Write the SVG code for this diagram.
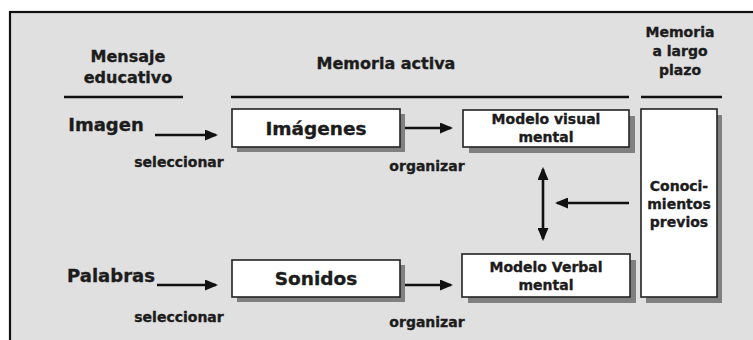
<svg xmlns="http://www.w3.org/2000/svg" width="753" height="340" viewBox="0 0 753 340">
<style>
  text { font-family: "DejaVu Sans", "Verdana", sans-serif; font-weight: bold; fill: #1c1c1c; stroke: #1c1c1c; stroke-width: 0.35; text-anchor: middle; }
  .hdr { font-size: 16px; }
  .hdr2 { font-size: 14px; }
  .big { font-size: 18px; }
  .box-t { font-size: 18.5px; }
  .mid { font-size: 14px; }
  .lbl { font-size: 14px; }
  .box { fill: #ffffff; stroke: #222222; stroke-width: 1.6; }
  .shadow { fill: #808080; }
  .rule { stroke: #111111; stroke-width: 2.5; }
  .arr { stroke: #111111; stroke-width: 2.6; fill: none; }
</style>
<defs>
  <marker id="ah" viewBox="0 0 13 11" refX="11" refY="5.5" markerWidth="13" markerHeight="11" markerUnits="userSpaceOnUse" orient="auto-start-reverse">
    <path d="M0,0 L13,5.5 L0,11 z" fill="#111111"/>
  </marker>
</defs>

<rect x="0" y="0" width="753" height="340" fill="#ffffff"/>
<rect x="10" y="12" width="760" height="350" fill="#e0e0e0" stroke="#111111" stroke-width="2.2"/>

<g id="header-mensaje">
  <text class="hdr" x="128" y="62">Mensaje</text>
  <text class="hdr" x="128" y="83">educativo</text>
  <line class="rule" x1="64" y1="97" x2="183" y2="97"/>
</g>
<g id="header-memoria-activa">
  <text class="hdr" x="386" y="69">Memoria activa</text>
  <line class="rule" x1="231" y1="97" x2="629" y2="97"/>
</g>
<g id="header-memoria-largo">
  <text class="hdr2" x="680" y="37">Memoria</text>
  <text class="hdr2" x="680" y="56">a largo</text>
  <text class="hdr2" x="680" y="75">plazo</text>
  <line class="rule" x1="641" y1="97" x2="722" y2="97"/>
</g>

<g id="imagen">
  <text class="big" x="106" y="131">Imagen</text>
</g>
<g id="palabras">
  <text class="big" x="111" y="282">Palabras</text>
</g>

<g id="imagenes">
  <rect class="shadow" x="237" y="114" width="168" height="38"/>
  <rect class="box" x="232" y="109" width="168" height="38"/>
  <text class="box-t" x="316" y="135">Imágenes</text>
</g>
<g id="sonidos">
  <rect class="shadow" x="237" y="265" width="168" height="37"/>
  <rect class="box" x="232" y="260" width="168" height="37"/>
  <text class="box-t" x="316" y="285">Sonidos</text>
</g>
<g id="modelo-visual">
  <rect class="shadow" x="469" y="116" width="166" height="37"/>
  <rect class="box" x="463" y="110" width="166" height="37"/>
  <text class="mid" x="546" y="124">Modelo visual</text>
  <text class="mid" x="546" y="142">mental</text>
</g>
<g id="modelo-verbal">
  <rect class="shadow" x="468" y="260" width="168" height="43"/>
  <rect class="box" x="462" y="254" width="168" height="43"/>
  <text class="mid" x="546" y="272">Modelo Verbal</text>
  <text class="mid" x="546" y="290">mental</text>
</g>
<g id="conocimientos">
  <rect class="shadow" x="646" y="115" width="76" height="188"/>
  <rect class="box" x="641" y="109" width="76" height="188"/>
  <text class="mid" x="679" y="191">Conoci-</text>
  <text class="mid" x="679" y="209">mientos</text>
  <text class="mid" x="679" y="227">previos</text>
</g>

<g id="connectors">
  <line class="arr" x1="155" y1="135" x2="216" y2="135" marker-end="url(#ah)"/>
  <line class="arr" x1="157" y1="285" x2="216" y2="285" marker-end="url(#ah)"/>
  <line class="arr" x1="405" y1="128" x2="451" y2="128" marker-end="url(#ah)"/>
  <line class="arr" x1="405" y1="285" x2="451" y2="285" marker-end="url(#ah)"/>
  <line class="arr" x1="543" y1="169" x2="543" y2="239" marker-start="url(#ah)" marker-end="url(#ah)"/>
  <line class="arr" x1="629" y1="203" x2="557" y2="203" marker-end="url(#ah)"/>
  <text class="lbl" x="179" y="167">seleccionar</text>
  <text class="lbl" x="179" y="322">seleccionar</text>
  <text class="lbl" x="427" y="171">organizar</text>
  <text class="lbl" x="427" y="327">organizar</text>
</g>
</svg>
